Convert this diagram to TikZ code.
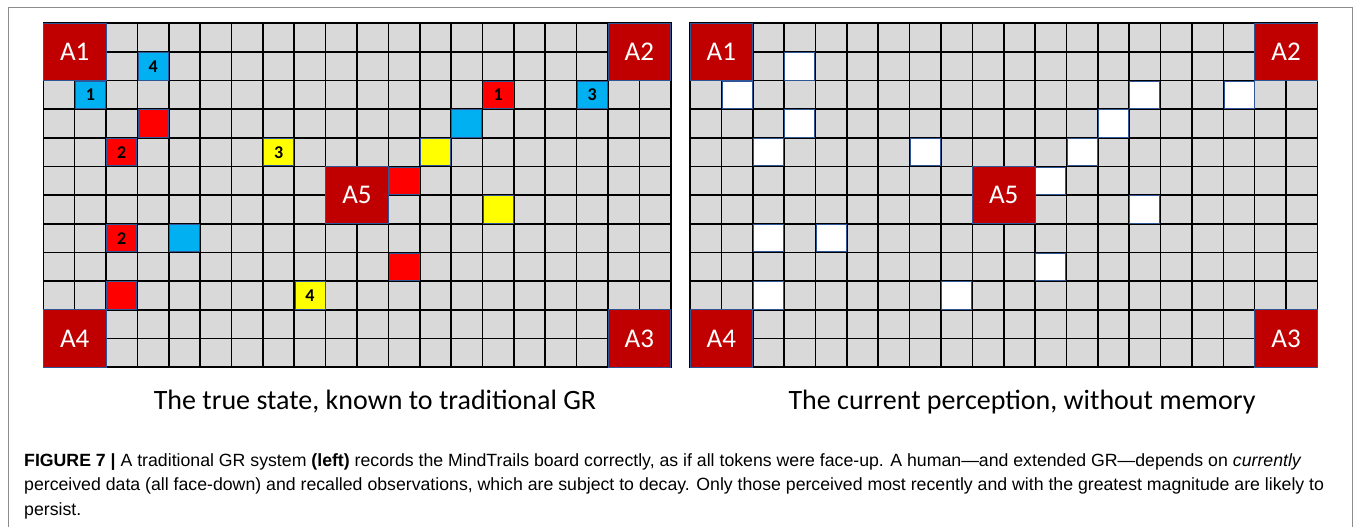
\documentclass[tikz,border=0pt]{standalone}
\usepackage{fontspec}
\setmainfont{Liberation Sans}
\newfontfamily\boardfont{Carlito}
\usetikzlibrary{calc}
\definecolor{cellGrey}{HTML}{D9D9D9}
\definecolor{homeRed}{HTML}{C00000}
\definecolor{tokRed}{HTML}{FF0000}
\definecolor{tokBlue}{HTML}{00B0F0}
\definecolor{tokYellow}{HTML}{FFFF00}
\definecolor{tokLine}{HTML}{2F5597}
\definecolor{frameGrey}{HTML}{8C8C8C}
\newcommand{\cellw}{31.37}
\newcommand{\cellh}{28.64}
\newcommand{\gridtop}{23.3}
% col/row/colour/number of each token on the board
\newcommand{\tokenlist}{3/1/tokBlue/4, 1/2/tokBlue/1, 3/3/tokRed/{}, 2/4/tokRed/2,
  7/4/tokYellow/3, 14/2/tokRed/1, 17/2/tokBlue/3, 13/3/tokBlue/{}, 12/4/tokYellow/{},
  11/5/tokRed/{}, 14/6/tokYellow/{}, 2/7/tokRed/2, 4/7/tokBlue/{}, 2/9/tokRed/{},
  8/9/tokYellow/4, 11/8/tokRed/{}}
\tikzset{
  gridline/.style={draw=black, line width=1.6pt, line cap=rect},
  home/.style={rectangle, draw=tokLine, fill=homeRed, line width=0.8pt, text=white, inner sep=0pt,
    minimum width=62.7pt, minimum height=57.3pt, font=\boardfont\fontsize{27}{27}\selectfont},
  token/.style={rectangle, draw=tokLine, fill=#1, line width=0.8pt, inner sep=0pt,
    minimum width=30pt, minimum height=27.4pt, font=\boardfont\bfseries\fontsize{18}{18}\selectfont},
  boardlabel/.style={font=\boardfont\fontsize{28}{28}\selectfont, inner sep=0pt},
  caption/.style={font=\fontsize{17.7}{24.8}\selectfont, align=left, inner sep=0pt, anchor=north west},
}
\begin{document}
\begin{tikzpicture}[x=1pt,y=-1pt]
  \useasboundingbox (0,0) rectangle (1354,527);
  \draw[frameGrey, line width=0.8pt] (8,540) -- (8,7) -- (1352,7) -- (1352,540);

  % --- the two boards ---
  \foreach \bx/\sd in {43.3/l, 690/r}{
    \fill[cellGrey] (\bx,\gridtop) rectangle ++({20*\cellw},{12*\cellh});
    \foreach \i in {0,...,20}
      \draw[gridline] ({\bx+\i*\cellw},\gridtop) -- ++(0,{12*\cellh});
    \foreach \j in {0,...,12}
      \draw[gridline] (\bx,{\gridtop+\j*\cellh}) -- ++({20*\cellw},0);
    \foreach \c/\r/\n in {0/0/1, 18/0/2, 18/10/3, 0/10/4, 9/5/5}
      \node[home] (\sd A\n) at ({\bx+(\c+1)*\cellw},{\gridtop+(\r+1)*\cellh}) {A\n};
  }

  % --- tokens: face-up (left), face-down (right) ---
  \foreach \c/\r/\col/\n [count=\k] in \tokenlist{
    \node[token=\col] (lt\k) at ({43.3+(\c+0.5)*\cellw},{\gridtop+(\r+0.5)*\cellh}) {\n};
    \node[token=white] (rt\k) at ({690+(\c+0.5)*\cellw},{\gridtop+(\r+0.5)*\cellh}) {};
  }

  % --- labels ---
  \node[boardlabel] (trueLabel) at (375,402) {The true state, known to traditional GR};
  \node[boardlabel] (percLabel) at (1022,402) {The current perception, without memory};

  \node[caption] (figCaption) at (24,453)
    {\textbf{FIGURE 7 |} A traditional GR system \textbf{(left)} records the MindTrails board correctly, as if all tokens were face-up. A human—and extended GR—depends on \textit{currently}\\
     perceived data (all face-down) and recalled observations, which are subject to decay. Only those perceived most recently and with the greatest magnitude are likely to\\
     persist.};
\end{tikzpicture}
\end{document}
